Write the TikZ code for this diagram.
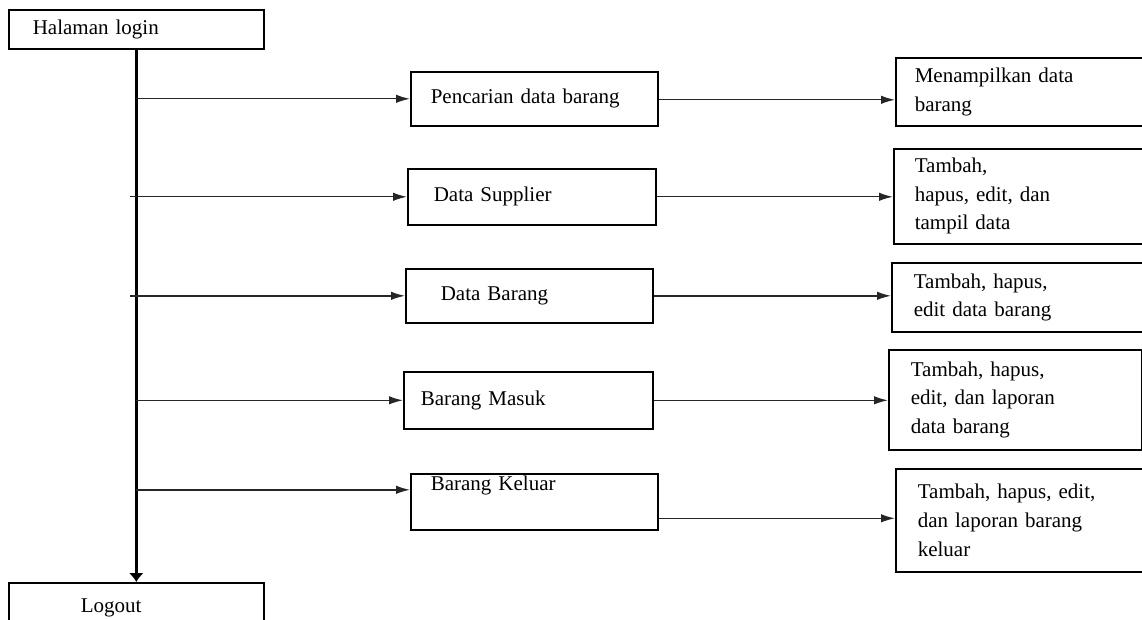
\documentclass[tikz,border=0pt]{standalone}
\usepackage{fontspec}
\setmainfont{Liberation Serif}
\usepackage{tikz}
\usetikzlibrary{arrows.meta}

\tikzset{
  box/.style={draw,line width=1.6pt,anchor=north west,align=left,inner ysep=0pt,
    font=\fontsize{21}{28.6}\selectfont},
  alur/.style={-{Latex[length=14pt,width=8.5pt]},line width=1.4pt,black!85},
}

\begin{document}
\begin{tikzpicture}[x=1pt,y=-1pt]
    \useasboundingbox (0,0) rectangle (1142,620);
    \node[box,minimum height=39,inner xsep=24,text width=207] at(8,9)(login){Halaman login};
    \node[box,minimum height=50,inner xsep=72,text width=111] at(8,582)(logout){Logout};
    % menu
    \node[box,minimum height=54,inner xsep=20,text width=207] at(410,71)(cari){Pencarian data barang};
    \node[box,minimum height=56,inner xsep=26,text width=196] at(407,168)(supplier){Data Supplier};
    \node[box,minimum height=54,inner xsep=35,text width=177] at(405,268)(barang){Data Barang};
    \node[box,minimum height=57,inner xsep=17,text width=215] at(403,371)(masuk){Barang Masuk};
    \node[box,minimum height=56,inner xsep=20,text width=207,text depth=38pt] at(410,473)(keluar){Barang Keluar};
    % aksi
    \node[box,minimum height=68,inner xsep=19,text width=217] at(895,57)(tampil){Menampilkan data\\barang};
    \node[box,minimum height=95,inner xsep=21,text width=215] at(893,148)(crudsup){Tambah,\\hapus, edit, dan\\tampil data};
    \node[box,minimum height=69,inner xsep=22,text width=215] at(891,262)(crudbrg){Tambah, hapus,\\edit data barang};
    \node[box,minimum height=100,inner xsep=22,text width=209] at(888,349)(lapmasuk){Tambah, hapus,\\edit, dan laporan\\data barang};
    \node[box,minimum height=103,inner xsep=22,text width=211] at(895,468)(lapkeluar){Tambah, hapus, edit,\\dan laporan barang\\keluar};
    \draw[line width=3pt,-{Latex[length=9pt,width=15pt]}] (login.south) -- (logout.north);
    \draw[alur] (cari.west -| login.south) -- (cari.west);
    \draw[alur] ([xshift=-6pt]supplier.west -| login.south) -- (supplier.west);
    \draw[alur] ([xshift=-6pt]barang.west -| login.south) -- (barang.west);
    \draw[alur] (masuk.west -| login.south) -- (masuk.west);
    \draw[alur] ([yshift=12pt]keluar.west -| login.south) -- ([yshift=12pt]keluar.west);
    \draw[alur] ([yshift=-1pt]cari.east) -- ([yshift=-1pt]cari.east -| tampil.west);
    \draw[alur] (supplier.east) -- (supplier.east -| crudsup.west);
    \draw[alur] (barang.east) -- (barang.east -| crudbrg.west);
    \draw[alur] (masuk.east) -- (masuk.east -| lapmasuk.west);
    \draw[alur] ([yshift=2pt]lapkeluar.west -| keluar.east) -- ([yshift=2pt]lapkeluar.west);
\end{tikzpicture}
\end{document}
